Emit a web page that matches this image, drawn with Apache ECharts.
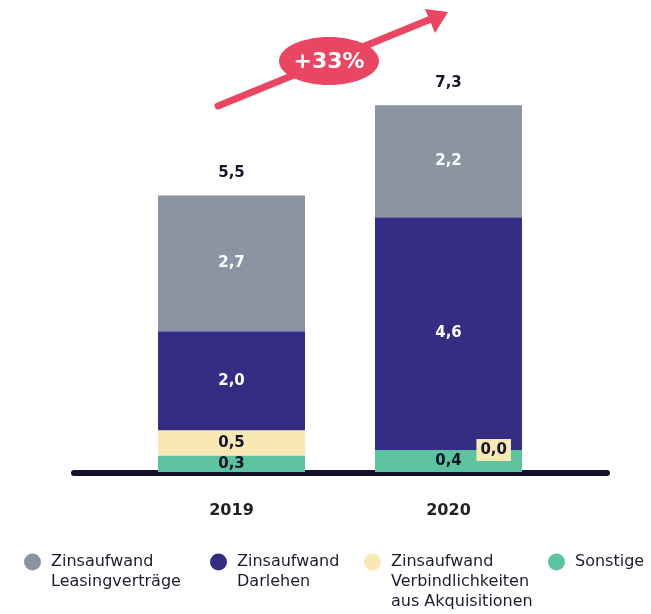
<!DOCTYPE html>
<html><head><meta charset="utf-8">
<style>html,body{margin:0;padding:0;background:#fff}#c{width:651px;height:614px}</style>
<script src="https://cdn.jsdelivr.net/npm/echarts@6/dist/echarts.min.js"></script>
</head><body><div id="c"></div>
<script>
const categories = ['2019', '2020'];
const seriesNames = ['Zinsaufwand Leasingverträge', 'Zinsaufwand Darlehen', 'Zinsaufwand Verbindlichkeiten aus Akquisitionen', 'Sonstige'];
const legendLines = [['Zinsaufwand', 'Leasingverträge'], ['Zinsaufwand', 'Darlehen'], ['Zinsaufwand', 'Verbindlichkeiten', 'aus Akquisitionen'], ['Sonstige']];
const sonstige = [0.33, 0.44];
const akquisitionen = [0.5, 0.0];
const darlehen = [1.97, 4.63];
const leasing = [2.7, 2.23];
const growthLabel = '+33%';

const colors = { leasing: '#8a94a3', darlehen: '#352c83', akq: '#f8e8b4', sonst: '#5dc39f', red: '#e84662', dark: '#15152a' };
const totals = categories.map((c, i) => sonstige[i] + akquisitionen[i] + darlehen[i] + leasing[i]);
const fmt = v => v.toFixed(1).replace('.', ',');
const FONT = 'DejaVu Sans';

function barLabel(color) {
  return { show: true, position: 'inside', color: color, fontFamily: FONT, fontWeight: 'bold', fontSize: 15,
    formatter: p => fmt(p.value) };
}

const chart = echarts.init(document.getElementById('c'), null, { renderer: 'canvas' });

const legendLeft = [24, 210, 364, 548];
const LH = 20;
const ICON = 17;
const iconCenter = 562;
const legends = seriesNames.map((n, i) => {
  const lines = legendLines[i].length;
  const boxH = (2 * lines - 1) * LH;
  return {
    data: [{ name: n, icon: 'circle' }],
    left: legendLeft[i], top: iconCenter - Math.max(boxH / 2, ICON / 2), padding: 0,
    itemWidth: ICON, itemHeight: ICON, selectedMode: false,
    formatter: () => '\n'.repeat(lines - 1) + legendLines[i].join('\n'),
    textStyle: { fontFamily: FONT, fontSize: 16, color: '#1c1c2c', lineHeight: LH,
      padding: [0, 0, 0, 5] }
  };
});

const option = {
  animation: false,
  backgroundColor: '#fff',
  grid: [
    { left: 123, width: 434, top: 70, height: 402 },
    { left: 74, width: 533, top: 471, height: 2 }
  ],
  xAxis: [
    { gridIndex: 0, type: 'category', data: categories,
      axisLine: { show: false }, axisTick: { show: false },
      axisLabel: { margin: 31, color: '#222', fontFamily: FONT, fontWeight: 'bold', fontSize: 16 } },
    { gridIndex: 1, type: 'value', min: 0, max: 1,
      axisLine: { show: true, lineStyle: { color: '#14122a', width: 6, cap: 'round' } },
      axisTick: { show: false }, axisLabel: { show: false }, splitLine: { show: false } }
  ],
  yAxis: [
    { gridIndex: 0, type: 'value', min: 0, max: 8, show: false },
    { gridIndex: 1, type: 'value', show: false }
  ],
  legend: legends,
  series: [
    { name: seriesNames[3], type: 'bar', stack: 's', barWidth: 147, data: sonstige,
      itemStyle: { color: colors.sonst }, label: barLabel(colors.dark) },
    { name: seriesNames[2], type: 'bar', stack: 's', barWidth: 147,
      data: akquisitionen.map((v, i) => v === 0 ? {
        value: v, label: { show: true, position: 'insideRight', distance: 11, color: colors.dark,
          backgroundColor: colors.akq, padding: [4, 4, 3, 4], fontFamily: FONT, fontWeight: 'bold', fontSize: 15,
          formatter: p => fmt(p.value) } } : v),
      itemStyle: { color: colors.akq }, label: barLabel(colors.dark) },
    { name: seriesNames[1], type: 'bar', stack: 's', barWidth: 147, data: darlehen,
      itemStyle: { color: colors.darlehen }, label: barLabel('#fff') },
    { name: seriesNames[0], type: 'bar', stack: 's', barWidth: 147, data: leasing,
      itemStyle: { color: colors.leasing }, label: barLabel('#fff') },
    { name: 'total', type: 'bar', barWidth: 147, barGap: '-100%', data: totals, silent: true, z: 1,
      itemStyle: { color: 'rgba(0,0,0,0)' },
      label: { show: true, position: 'top', distance: 15, color: colors.dark, fontFamily: FONT,
        fontWeight: 'bold', fontSize: 15, formatter: p => fmt(p.value) } }
  ],
  graphic: [
    { type: 'line', shape: { x1: 218, y1: 106, x2: 431, y2: 19 }, style: { stroke: colors.red, lineWidth: 7, lineCap: 'round' }, z: 10 },
    { type: 'polygon', shape: { points: [[448, 12], [425, 9], [435, 33]] }, style: { fill: colors.red }, z: 10 },
    { type: 'ellipse', shape: { cx: 329, cy: 61, rx: 50, ry: 24 }, style: { fill: colors.red }, z: 11 },
    { type: 'text', x: 329, y: 62, z: 12, style: { text: growthLabel, fill: '#fff', fontFamily: FONT, fontWeight: 'bold', fontSize: 22, align: 'center', verticalAlign: 'middle' } }
  ]
};
chart.setOption(option);
</script></body></html>
